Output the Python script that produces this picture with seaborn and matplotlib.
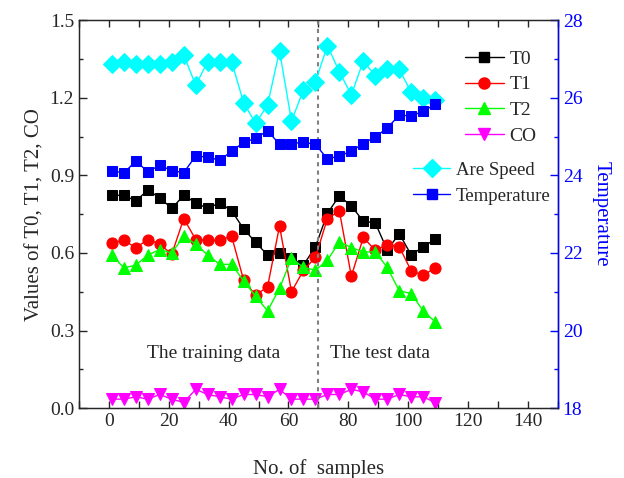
import numpy as np
import pandas as pd
import matplotlib
matplotlib.use('Agg')
import matplotlib.pyplot as plt
from matplotlib.lines import Line2D
from matplotlib.ticker import MultipleLocator
import seaborn as sns

# du lieu doc tu hinh (mau moi 4 diem)
samples = list(range(1, 110, 4))
t0 = [0.823, 0.823, 0.801, 0.843, 0.813, 0.772, 0.823, 0.794, 0.772, 0.794,
      0.763, 0.693, 0.641, 0.592, 0.600, 0.579, 0.553, 0.624, 0.753, 0.821,
      0.781, 0.723, 0.716, 0.611, 0.675, 0.592, 0.624, 0.653]
t1 = [0.639, 0.649, 0.620, 0.652, 0.634, 0.595, 0.733, 0.652, 0.649, 0.649,
      0.665, 0.495, 0.437, 0.469, 0.704, 0.450, 0.533, 0.583, 0.733, 0.762,
      0.510, 0.660, 0.610, 0.632, 0.624, 0.531, 0.514, 0.542]
t2 = [0.592, 0.542, 0.553, 0.592, 0.613, 0.600, 0.665, 0.634, 0.592, 0.556,
      0.556, 0.492, 0.433, 0.376, 0.463, 0.579, 0.544, 0.533, 0.572, 0.643,
      0.621, 0.604, 0.604, 0.544, 0.454, 0.443, 0.376, 0.334]
co = [0.035, 0.035, 0.044, 0.035, 0.053, 0.035, 0.022, 0.073, 0.053, 0.044,
      0.035, 0.053, 0.053, 0.044, 0.073, 0.035, 0.035, 0.035, 0.053, 0.053,
      0.073, 0.063, 0.035, 0.035, 0.053, 0.044, 0.044, 0.022]
are_speed = [26.87, 26.93, 26.87, 26.87, 26.87, 26.93, 27.10, 26.32, 26.93, 26.93,
             26.93, 25.87, 25.34, 25.81, 27.21, 25.40, 26.20, 26.41, 27.34, 26.67,
             26.07, 26.95, 26.56, 26.73, 26.73, 26.14, 26.00, 25.94]
temperature = [24.12, 24.06, 24.37, 24.09, 24.26, 24.12, 24.07, 24.50, 24.47, 24.39,
               24.62, 24.85, 24.95, 25.15, 24.80, 24.82, 24.85, 24.80, 24.42, 24.50,
               24.62, 24.82, 24.99, 25.22, 25.55, 25.53, 25.65, 25.83]

sns.set_style('ticks')
plt.rcParams['font.family'] = ['Liberation Serif', 'DejaVu Serif']
plt.rcParams['xtick.direction'] = 'in'
plt.rcParams['ytick.direction'] = 'in'

fig = plt.figure(figsize=(6.24, 4.78), dpi=100)
ax = fig.add_axes([0.1266, 0.146, 0.894 - 0.1266, 0.958 - 0.146])
ax2 = ax.twinx()

# cac duong truc trai
left_series = [
    (t0, 'T0', 'black', 's', 7),
    (t1, 'T1', 'red', 'o', 8),
    (t2, 'T2', '#00ff00', '^', 9),
    (co, 'CO', '#ff00ff', 'v', 9),
]
for vals, name, col, mk, ms in left_series:
    sns.lineplot(x=samples, y=vals, ax=ax, color=col, marker=mk, markersize=ms,
                 markeredgecolor=col, linewidth=1)

# cac duong truc phai
right_series = [
    (are_speed, 'Are Speed', '#00ffff', 'D', 9),
    (temperature, 'Temperature', '#0000ff', 's', 7),
]
for vals, name, col, mk, ms in right_series:
    sns.lineplot(x=samples, y=vals, ax=ax2, color=col, marker=mk, markersize=ms,
                 markeredgecolor=col, linewidth=1)

ax.axvline(70, color='gray', linestyle=(0, (2, 2)), linewidth=1.5)

ax.set_xlim(-10, 150)
ax.set_ylim(0, 1.5)
ax2.set_ylim(18, 28)
ax.xaxis.set_major_locator(MultipleLocator(20))
ax.xaxis.set_minor_locator(MultipleLocator(10))
ax.yaxis.set_major_locator(MultipleLocator(0.3))
ax.yaxis.set_minor_locator(MultipleLocator(0.15))
ax2.yaxis.set_major_locator(MultipleLocator(2))
ax2.yaxis.set_minor_locator(MultipleLocator(1))
ax.set_yticklabels([f'{v:.1f}' for v in ax.get_yticks()])

ax.tick_params(axis='x', which='both', top=True, length=5, width=1, labelsize=14)
ax.tick_params(axis='y', which='major', length=6, width=1, labelsize=14)
ax.tick_params(axis='y', which='minor', length=3, width=1)
ax2.tick_params(axis='y', which='major', length=6, width=1, labelsize=14,
                colors='#0000ff')
ax2.tick_params(axis='y', which='minor', length=3, width=1, colors='#0000ff')
for sp in ax.spines.values():
    sp.set_linewidth(1)
ax2.spines['right'].set_color('#0000ff')
ax2.spines['right'].set_linewidth(1)

ax.set_xlabel('No. of  samples', fontsize=15, labelpad=21)
ax.set_ylabel('Values of T0, T1, T2, CO', fontsize=15)
ax2.set_ylabel('Temperature', fontsize=15, color='#0000ff', rotation=270, labelpad=20)

ax.text(35, 0.21, 'The training data', fontsize=14, ha='center', va='center')
ax.text(90.5, 0.21, 'The test data', fontsize=14, ha='center', va='center')

h1 = [Line2D([], [], color=c, marker=m, markersize=s, linewidth=1)
      for _, _, c, m, s in left_series]
leg1 = ax2.legend(h1, [s[1] for s in left_series], loc='upper left',
                  bbox_to_anchor=(0.769, 0.968), frameon=False, fontsize=14,
                  handlelength=2.0, labelspacing=0.42, handletextpad=0.3)
ax2.add_artist(leg1)
h2 = [Line2D([], [], color=c, marker=m, markersize=s, linewidth=1)
      for _, _, c, m, s in right_series]
ax2.legend(h2, [s[1] for s in right_series], loc='upper left',
           bbox_to_anchor=(0.662, 0.678), frameon=False, fontsize=13.5,
           handlelength=2.0, labelspacing=0.45, handletextpad=0.3)

fig.savefig('out.png', dpi=100)
